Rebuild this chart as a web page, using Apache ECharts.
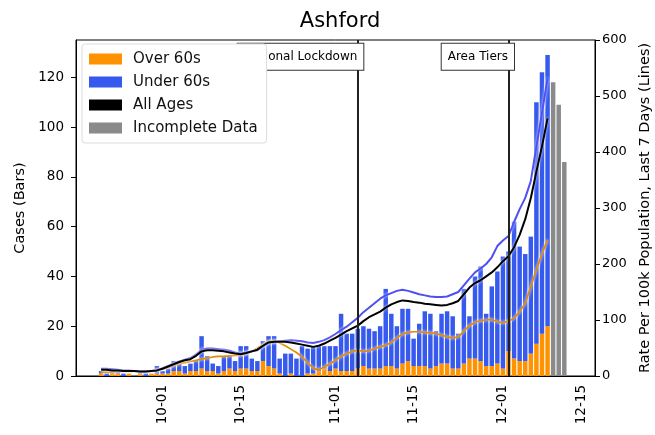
<!DOCTYPE html>
<html><head><meta charset="utf-8">
<script src="https://cdn.jsdelivr.net/npm/echarts@6/dist/echarts.min.js"></script>
<style>html,body{margin:0;padding:0;background:#fff}#c{width:655px;height:435px}</style>
</head><body><div id="c"></div>
<script>
// ---- axis range (daily categories) ----
const axisStart = '2020-09-16';
const axisDays = 93;
const tickLabels = ['10-01', '10-15', '11-01', '11-15', '12-01', '12-15'];

// ---- daily cases, 09-20 .. 12-09 ----
const dataStart = '09-20';
const over60Cases = [
  1,0,1,1,0,1,0,1,0,1,1,
  1,1,2,2,1,2,2,3,2,2, 1,2,3,2,3,3,2,2,6,4, 3,1,0,1,0,0,1,1,2,3, 2,
  3,2,2,2,3,4,3,3,3,4, 4,3,5,6,4,4,4,3,4,5, 5,3,3,5,7,7,6,4,4,5,
  3,10,7,6,6,9,13,17,20
];
const under60Cases = [
  1,1,1,1,1,0,0,1,1,0,3,
  1,2,4,4,3,3,4,13,6,3, 3,6,5,4,9,9,5,4,8,12, 13,6,9,8,7,12,10,11,10,9, 10,
  9,23,15,15,16,16,16,15,17,31, 21,17,22,21,11,17,22,22,14,20, 21,21,14,30,17,33,38,21,32,37,
  45,40,55,46,43,47,97,105,109
];
// ---- incomplete days, 12-10 .. 12-12 ----
const incompleteStart = '12-10';
const incompleteCases = [118, 109, 86];

// ---- 7-day rates per 100k, 09-20 .. 12-09 ----
const rateAllAges = [
  11,11,10,10,9,9,9,8,8,9,10,
  13,17,21,25,28,30,36,44,46,46, 45,44,42,40,39,41,44,47,54,60, 61,61,61,60,58,56,54,52,54,58, 63,
  68,74,80,85,90,98,105,110,115,122, 128,132,135,134,132,131,129,128,127,126, 127,130,134,146,158,166,171,178,185,194,
  205,214,230,252,280,318,365,410,460
];
const rateUnder60 = [
  13,13,12,11,10,10,9,8,8,9,10,
  14,18,22,26,29,32,38,47,49,49, 48,47,45,42,40,42,44,46,53,60, 61,62,63,64,63,62,60,59,61,64, 69,
  75,82,88,96,104,114,122,130,138,144, 148,152,154,152,149,146,144,142,141,141, 142,146,150,162,174,185,192,200,212,232,
  242,250,275,298,318,348,410,470,532
];
const rateOver60 = [
  7,7,7,8,8,8,8,8,9,9,10,
  12,15,19,22,24,26,28,30,32,34, 35,35,36,37,37,40,44,50,56,62, 63,59,54,48,42,34,24,14,11,16, 22,
  28,35,40,44,46,44,45,49,52,55, 60,68,75,78,79,79,78,77,76,73, 70,68,70,80,90,96,99,100,101,97,
  95,98,103,115,130,160,190,218,243
];

// ---- annotations ----
const events = [
  {date: '11-05', label: 'National Lockdown'},
  {date: '12-02', label: 'Area Tiers'}
];
const incompleteSpan = ['12-09', '12-13'];
const eventLabelRate = 570;

// ---- build categories ----
const categories = [];
const t0 = new Date(axisStart + 'T00:00:00Z').getTime();
for (let i = 0; i < axisDays; i++) {
  const d = new Date(t0 + i * 864e5);
  categories.push(String(d.getUTCMonth() + 1).padStart(2, '0') + '-' + String(d.getUTCDate()).padStart(2, '0'));
}
function pad(arr, startLabel) {
  const s = categories.indexOf(startLabel);
  return categories.map((_, i) => (i >= s && i - s < arr.length) ? arr[i - s] : null);
}
const showTick = (idx, val) => tickLabels.indexOf(val) >= 0;
const FONT = 'DejaVu Sans';
const halo = {shadowColor: 'rgba(255,255,255,0.95)', shadowBlur: 3};

const chart = echarts.init(document.getElementById('c'), null, {renderer: 'canvas'});
chart.setOption({
  animation: false,
  backgroundColor: '#fff',
  textStyle: {fontFamily: FONT},
  title: {
    text: 'Ashford', left: 335, top: 6, textAlign: 'center',
    textStyle: {fontFamily: FONT, fontSize: 21, fontWeight: 'normal', color: '#000'}
  },
  legend: {
    data: ['Over 60s', 'Under 60s', 'All Ages', 'Incomplete Data'],
    orient: 'vertical', left: 82, top: 44, z: 20, zlevel: 0,
    icon: 'rect', itemWidth: 33, itemHeight: 11, itemGap: 7,
    backgroundColor: '#fff', borderColor: '#dcdcdc', borderWidth: 1, borderRadius: 3,
    padding: [7, 9, 7, 7],
    textStyle: {fontFamily: FONT, fontSize: 15, color: '#111', lineHeight: 16, padding: [0, 0, 0, 6]}
  },
  grid: {
    left: 76, right: 60, top: 40, bottom: 59, outerBoundsMode: 'none', containLabel: false,
    show: true, borderColor: '#000', borderWidth: 1, backgroundColor: 'transparent'
  },
  xAxis: {
    type: 'category', data: categories, boundaryGap: true,
    axisLine: {lineStyle: {color: '#000', width: 1}},
    axisTick: {interval: showTick, alignWithLabel: true, length: 5, lineStyle: {color: '#000'}},
    axisLabel: {interval: showTick, rotate: 90, fontSize: 13.5, margin: 9, color: '#000', fontFamily: FONT},
    splitLine: {show: false}
  },
  yAxis: [{
    type: 'value', min: 0, max: 135, interval: 20,
    name: 'Cases (Bars)', nameLocation: 'middle', nameGap: 46,
    nameTextStyle: {fontFamily: FONT, fontSize: 14.5, color: '#000'},
    axisLine: {show: true, lineStyle: {color: '#000'}},
    axisTick: {show: true, length: 5, lineStyle: {color: '#000'}},
    axisLabel: {fontSize: 13.5, margin: 12, color: '#000', showMaxLabel: false, fontFamily: FONT},
    splitLine: {show: false}
  }, {
    type: 'value', min: 0, max: 600, interval: 100, position: 'right',
    name: 'Rate Per 100k Population, Last 7 Days (Lines)', nameLocation: 'middle', nameGap: 40, nameRotate: 90,
    nameTextStyle: {fontFamily: FONT, fontSize: 14.5, color: '#000'},
    axisLine: {show: true, lineStyle: {color: '#000'}},
    axisTick: {show: true, length: 5, lineStyle: {color: '#000'}},
    axisLabel: {fontSize: 13, margin: 7, color: '#000', fontFamily: FONT},
    splitLine: {show: false}
  }],
  series: [
    {
      name: 'Over 60s', type: 'bar', stack: 'cases', barCategoryGap: '20%',
      data: pad(over60Cases, dataStart), itemStyle: {color: '#ff9200'}
    },
    {
      name: 'Under 60s', type: 'bar', stack: 'cases',
      data: pad(under60Cases, dataStart), itemStyle: {color: '#3659ee'}
    },
    {
      name: 'Incomplete Data', type: 'bar', stack: 'cases',
      data: pad(incompleteCases, incompleteStart), itemStyle: {color: '#8a8a8a'},
      markArea: {
        silent: true, itemStyle: {color: 'rgba(0,0,0,0.10)'},
        data: [[{xAxis: incompleteSpan[0]}, {xAxis: incompleteSpan[1]}]]
      }
    },
    {
      name: 'Over 60s rate', type: 'line', yAxisIndex: 1, showSymbol: false, symbol: 'none',
      data: pad(rateOver60, dataStart),
      itemStyle: {color: '#e58a00'},
      lineStyle: Object.assign({color: '#e58a00', width: 1.7}, halo),
      markPoint: {
        symbol: 'rect', symbolSize: 1, silent: true,
        itemStyle: {color: 'rgba(0,0,0,0)'},
        label: {
          show: true, position: 'left', distance: -6, formatter: '{b}',
          fontFamily: FONT, fontSize: 12, color: '#000',
          backgroundColor: '#fff', borderColor: '#333', borderWidth: 1, padding: [7, 6, 7, 6]
        },
        data: events.map(e => ({name: e.label, coord: [e.date, eventLabelRate]}))
      }
    },
    {
      name: 'Under 60s rate', type: 'line', yAxisIndex: 1, showSymbol: false, symbol: 'none',
      data: pad(rateUnder60, dataStart),
      itemStyle: {color: '#4f4ff2'},
      lineStyle: Object.assign({color: '#4f4ff2', width: 2}, halo)
    },
    {
      name: 'All Ages', type: 'line', yAxisIndex: 1, showSymbol: false, symbol: 'none', z: 3,
      data: pad(rateAllAges, dataStart),
      itemStyle: {color: '#000'},
      lineStyle: Object.assign({color: '#000', width: 2}, halo),
      markLine: {
        silent: true, symbol: ['none', 'none'], label: {show: false},
        lineStyle: {color: '#222', width: 2, type: 'solid'},
        data: events.map(e => ({xAxis: e.date}))
      }
    }
  ]
});
</script>
</body></html>
